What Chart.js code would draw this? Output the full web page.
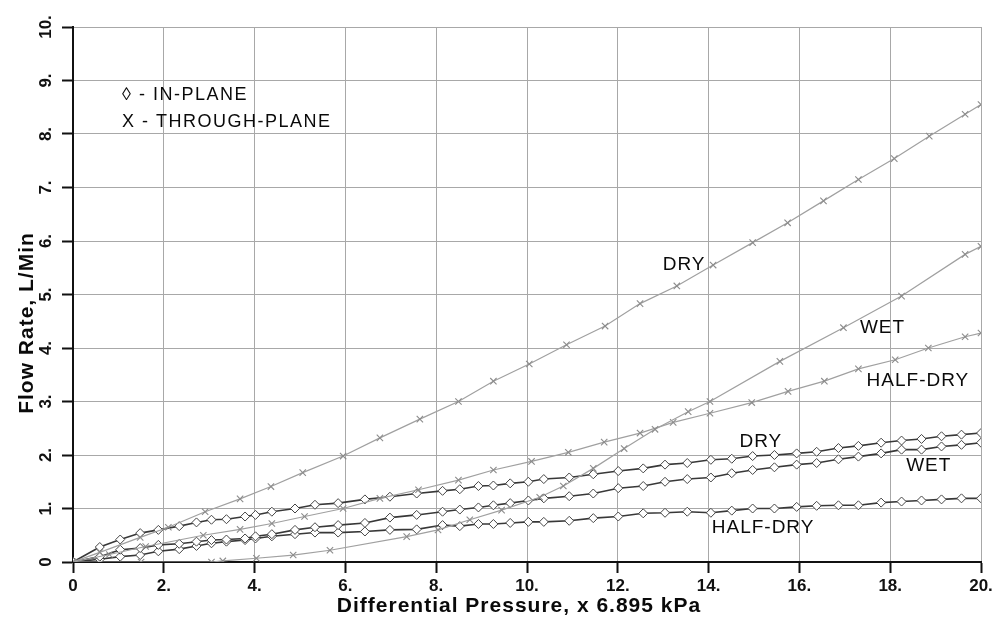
<!DOCTYPE html>
<html>
<head>
<meta charset="utf-8">
<title>Flow Rate vs Differential Pressure</title>
<style>
  html, body { margin: 0; padding: 0; background: #fff; }
  #wrap { width: 992px; height: 620px; }
</style>
<script src="https://cdn.jsdelivr.net/npm/chart.js@4.4.0/dist/chart.umd.min.js"></script>
</head>
<body>
<div id="wrap"><canvas id="flow-chart" width="992" height="620"></canvas></div>
<script>
// Axis ticks
const xTickValues = [0, 2, 4, 6, 8, 10, 12, 14, 16, 18, 20];
const yTickValues = [0, 1, 2, 3, 4, 5, 6, 7, 8, 9, 10];

// In-plane (diamond) samples share the same pressures
const inPlaneX = [0, 0.59, 1.04, 1.48, 1.88, 2.34, 2.72, 3.05, 3.38, 3.79, 4.02, 4.38, 4.89, 5.33, 5.84,
  6.43, 6.98, 7.57, 8.14, 8.52, 8.93, 9.26, 9.63, 10.03, 10.37, 10.93, 11.46, 12.01, 12.56, 13.04,
  13.53, 14.05, 14.51, 14.97, 15.45, 15.94, 16.38, 16.86, 17.3, 17.8, 18.25, 18.69, 19.13, 19.57, 20.0];
const inPlaneDry = [0, 0.28, 0.42, 0.54, 0.6, 0.67, 0.74, 0.79, 0.8, 0.85, 0.88, 0.94, 1.0, 1.07, 1.1,
  1.17, 1.22, 1.28, 1.33, 1.36, 1.42, 1.43, 1.47, 1.5, 1.55, 1.58, 1.64, 1.7, 1.75, 1.82,
  1.85, 1.91, 1.93, 1.98, 2.0, 2.03, 2.06, 2.13, 2.17, 2.23, 2.27, 2.3, 2.35, 2.38, 2.41];
const inPlaneWet = [0, 0.1, 0.23, 0.26, 0.32, 0.34, 0.38, 0.41, 0.42, 0.44, 0.48, 0.52, 0.6, 0.65, 0.69,
  0.73, 0.83, 0.88, 0.94, 0.98, 1.02, 1.06, 1.1, 1.15, 1.19, 1.23, 1.28, 1.38, 1.42, 1.5,
  1.55, 1.58, 1.66, 1.72, 1.77, 1.82, 1.85, 1.92, 1.97, 2.03, 2.1, 2.1, 2.16, 2.19, 2.23];
const inPlaneHalfDry = [0, 0.05, 0.1, 0.13, 0.2, 0.24, 0.3, 0.35, 0.38, 0.41, 0.44, 0.48, 0.52, 0.55, 0.55,
  0.57, 0.6, 0.61, 0.69, 0.67, 0.71, 0.71, 0.73, 0.75, 0.75, 0.77, 0.82, 0.85, 0.91, 0.92,
  0.94, 0.92, 0.96, 1.0, 1.0, 1.03, 1.05, 1.06, 1.06, 1.11, 1.13, 1.15, 1.17, 1.19, 1.19];

// Through-plane (X) samples
const throughDryX = [0, 0.59, 1.48, 2.1, 2.91, 3.68, 4.36, 5.06, 5.95, 6.76, 7.64, 8.49, 9.26, 10.05,
  10.87, 11.72, 12.49, 13.3, 14.1, 14.97, 15.74, 16.53, 17.3, 18.09, 18.86, 19.65, 20];
const throughDryY = [0, 0.18, 0.46, 0.65, 0.94, 1.18, 1.41, 1.67, 1.98, 2.32, 2.67, 3.0, 3.38, 3.7,
  4.06, 4.41, 4.83, 5.16, 5.55, 5.97, 6.34, 6.75, 7.15, 7.54, 7.96, 8.37, 8.55];

const throughWetX = [0, 1.5, 3.05, 3.3, 4.04, 4.85, 5.66, 7.35, 8.04, 8.74, 9.44, 10.28, 10.8, 11.46,
  12.14, 12.82, 13.55, 14.03, 15.57, 16.97, 18.25, 19.65, 20];
const throughWetY = [0, 0, 0, 0.02, 0.07, 0.13, 0.22, 0.475, 0.6, 0.79, 0.97, 1.21, 1.42, 1.75,
  2.12, 2.48, 2.81, 3.0, 3.75, 4.38, 4.97, 5.75, 5.9];

const throughHalfDryX = [0, 0.8, 1.6, 2.87, 3.68, 4.38, 5.1, 5.95, 6.76, 7.61, 8.49, 9.26, 10.1, 10.91,
  11.7, 12.49, 13.22, 14.03, 14.95, 15.75, 16.55, 17.3, 18.11, 18.84, 19.65, 20];
const throughHalfDryY = [0, 0.14, 0.29, 0.5, 0.61, 0.72, 0.85, 1.0, 1.19, 1.35, 1.53, 1.72, 1.88, 2.05,
  2.24, 2.41, 2.61, 2.78, 2.98, 3.19, 3.38, 3.61, 3.78, 4.0, 4.21, 4.28];

// Curve labels, placed in data units
const curveLabels = ['DRY', 'WET', 'HALF-DRY', 'DRY', 'WET', 'HALF-DRY'];
const curveLabelX = [13.46, 17.83, 18.61, 15.15, 18.85, 15.2];
const curveLabelY = [5.55, 4.37, 3.38, 2.24, 1.79, 0.64];

const keyLines = ['\u25CA - IN-PLANE', 'X - THROUGH-PLANE'];
const keyX = 1.08;
const keyY = [8.73, 8.22];

const xTitle = 'Differential Pressure, x 6.895 kPa';
const yTitle = 'Flow Rate, L/Min';

const toPoints = (xs, ys) => xs.map((x, i) => ({ x: x, y: ys[i] }));
const tickText = (v) => (v === 0 ? '0' : v + '.');

const inPlaneStyle = {
    borderColor: '#383838',
    borderWidth: 1.6,
    pointStyle: 'rectRot',
    pointRadius: 4.5,
    pointBorderColor: '#454545',
    pointBackgroundColor: '#ffffff',
    pointBorderWidth: 1
};
const throughPlaneStyle = {
    borderColor: '#a0a0a0',
    borderWidth: 1.2,
    pointStyle: 'crossRot',
    pointRadius: 4.5,
    pointBorderColor: '#8c8c8c',
    pointBorderWidth: 1.1
};

// Curve labels, key and axis titles drawn on top of the plot
const textOverlay = {
    id: 'textOverlay',
    afterDatasetsDraw(chart) {
        const { ctx, scales: { x, y } } = chart;
        ctx.save();
        ctx.fillStyle = '#0a0a0a';
        ctx.textBaseline = 'middle';
        ctx.letterSpacing = '1px';

        ctx.font = '19px "Liberation Sans", Arial, sans-serif';
        ctx.textAlign = 'center';
        curveLabels.forEach((t, i) => {
            ctx.fillText(t, x.getPixelForValue(curveLabelX[i]), y.getPixelForValue(curveLabelY[i]));
        });

        ctx.letterSpacing = '1.5px';
        ctx.font = '18px "Liberation Sans", Arial, sans-serif';
        ctx.textAlign = 'left';
        keyLines.forEach((t, i) => {
            ctx.fillText(t, x.getPixelForValue(keyX), y.getPixelForValue(keyY[i]));
        });

        // axis titles: x one a bit left of centre, y one a bit below centre
        ctx.letterSpacing = '1px';
        ctx.font = 'bold 21px "Liberation Sans", Arial, sans-serif';
        ctx.textAlign = 'center';
        ctx.fillText(xTitle, 519, 606);
        ctx.translate(27, 323);
        ctx.rotate(-Math.PI / 2);
        ctx.fillText(yTitle, 0, 0);
        ctx.restore();
    }
};

const ctx = document.getElementById('flow-chart').getContext('2d');
new Chart(ctx, {
    type: 'line',
    data: {
        datasets: [
            { label: 'Dry, through-plane', data: toPoints(throughDryX, throughDryY), ...throughPlaneStyle },
            { label: 'Wet, through-plane', data: toPoints(throughWetX, throughWetY), ...throughPlaneStyle },
            { label: 'Half-dry, through-plane', data: toPoints(throughHalfDryX, throughHalfDryY), ...throughPlaneStyle },
            { label: 'Dry, in-plane', data: toPoints(inPlaneX, inPlaneDry), ...inPlaneStyle },
            { label: 'Wet, in-plane', data: toPoints(inPlaneX, inPlaneWet), ...inPlaneStyle },
            { label: 'Half-dry, in-plane', data: toPoints(inPlaneX, inPlaneHalfDry), ...inPlaneStyle }
        ]
    },
    options: {
        responsive: false,
        animation: false,
        events: [],
        layout: { padding: { top: 27, right: 11, left: 0, bottom: 0 } },
        plugins: {
            legend: { display: false },
            tooltip: { enabled: false }
        },
        elements: { line: { tension: 0 } },
        scales: {
            x: {
                type: 'linear',
                min: 0,
                max: 20,
                afterBuildTicks: (s) => { s.ticks = xTickValues.map(v => ({ value: v })); },
                afterFit: (s) => { s.height = 58; s.paddingLeft = 0; s.paddingRight = 0; },
                ticks: {
                    callback: tickText,
                    color: '#111',
                    padding: 3,
                    maxRotation: 0,
                    font: { family: '"Liberation Sans", Arial, sans-serif', size: 17, weight: 'bold' }
                },
                grid: { color: '#a8a8a8', lineWidth: 1, tickColor: '#111', tickLength: 11, tickWidth: 2 },
                border: { color: '#111', width: 2 }
            },
            y: {
                min: 0,
                max: 10,
                afterBuildTicks: (s) => { s.ticks = yTickValues.map(v => ({ value: v })); },
                afterFit: (s) => { s.width = 73; s.paddingTop = 0; s.paddingBottom = 0; },
                ticks: {
                    callback: tickText,
                    color: '#111',
                    padding: 4,
                    minRotation: 90,
                    maxRotation: 90,
                    crossAlign: 'center',
                    font: { family: '"Liberation Sans", Arial, sans-serif', size: 17, weight: 'bold' }
                },
                grid: { color: '#a8a8a8', lineWidth: 1, tickColor: '#111', tickLength: 11, tickWidth: 2 },
                border: { color: '#111', width: 2 }
            }
        }
    },
    plugins: [textOverlay]
});
</script>
</body>
</html>
